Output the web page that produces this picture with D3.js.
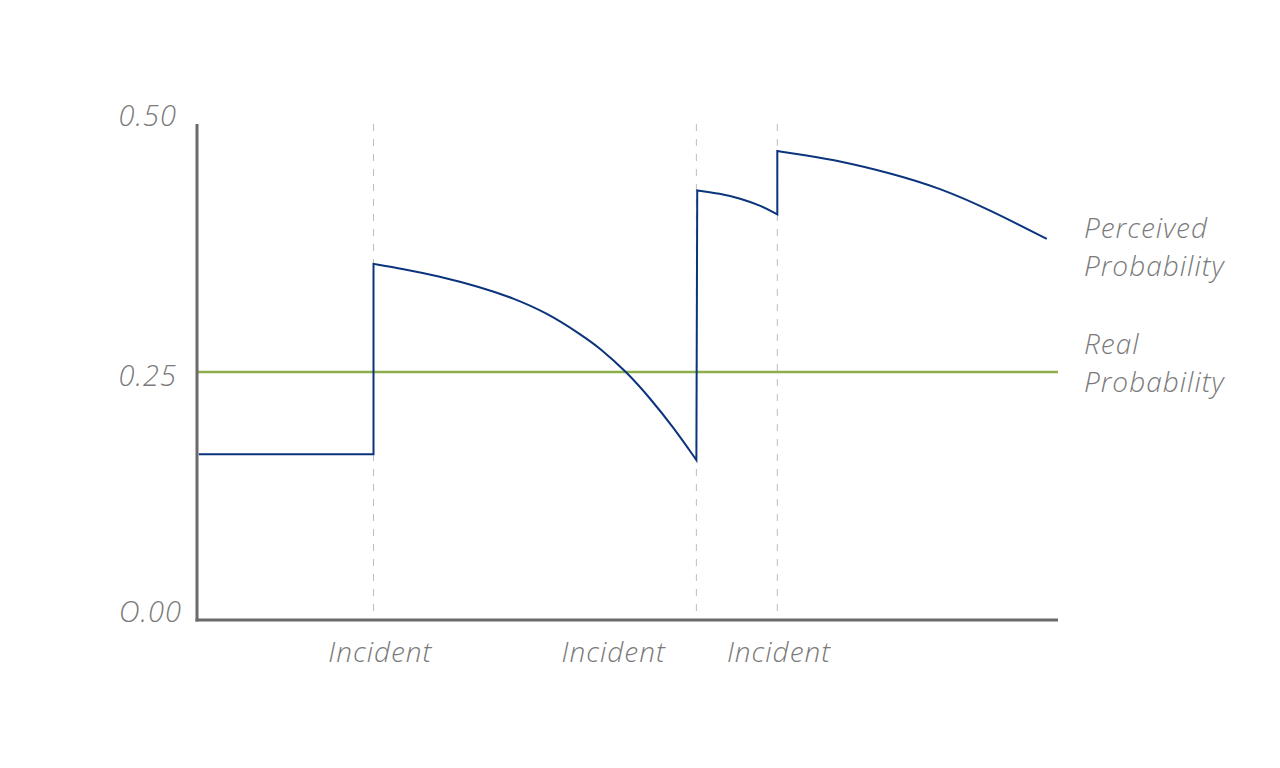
<!DOCTYPE html>
<html>
<head>
<meta charset="utf-8">
<script src="https://cdn.jsdelivr.net/npm/d3@7"></script>
<style>
  html, body { margin: 0; padding: 0; background: #fff; }
  svg text { font-family: "Open Sans", Lato, sans-serif; font-style: italic; font-weight: 300; fill: #7a7a7a; letter-spacing: 1px; }
</style>
</head>
<body>
<svg id="chart" width="1280" height="768"></svg>
<script>
// ---- data ----
const yTicks = [0.00, 0.25, 0.50];
const yTickLabels = ["O.00", "0.25", "0.50"];
const realProbability = 0.25;
const incidents = [20.5, 58.0, 67.4];
const incidentLabels = ["Incident", "Incident", "Incident"];
const incidentLabelAt = [21.3, 48.4, 67.6];
// perceived probability, piecewise segments (time, value)
const segBefore = [[0.2, 0.167], [20.5, 0.167]];
const segAfter1 = [[20.5, 0.359], [23.9, 0.354], [27.9, 0.347], [32.9, 0.3357], [36.7, 0.3246], [40.65, 0.3095], [44.5, 0.2883], [46.8, 0.2742], [49.9, 0.250], [52.6, 0.2238], [55.3, 0.1946], [58.0, 0.1613]];
const segAfter2 = [[58.1, 0.433], [60.7, 0.430], [63.1, 0.425], [65.4, 0.418], [67.4, 0.409]];
const segAfter3 = [[67.4, 0.4728], [70.4, 0.4688], [74.7, 0.4627], [80.5, 0.4506], [86.3, 0.4355], [92.1, 0.4133], [98.7, 0.3841]];
const seriesLabels = [["Perceived", "Probability"], ["Real", "Probability"]];

// ---- drawing ----
const svg = d3.select("#chart");
const x = d3.scaleLinear().domain([0, 100]).range([197, 1058]);
const y = d3.scaleLinear().domain([0, 0.5]).range([620, 124]);

// incident dashed lines
svg.selectAll("line.inc").data(incidents).enter().append("line")
  .attr("x1", d => x(d)).attr("x2", d => x(d))
  .attr("y1", y(0.5)).attr("y2", y(0) - 4)
  .attr("stroke", "#bdbdbd").attr("stroke-width", 1).attr("stroke-dasharray", "7,8");

// real probability
svg.append("line")
  .attr("x1", x(0)).attr("x2", x(100))
  .attr("y1", y(realProbability)).attr("y2", y(realProbability))
  .attr("stroke", "#8db04a").attr("stroke-width", 2.5);

// perceived probability
const linear = d3.line().x(d => x(d[0])).y(d => y(d[1]));
const curved = d3.line().x(d => x(d[0])).y(d => y(d[1])).curve(d3.curveBasis);
let pathD = linear(segBefore);
[segAfter1, segAfter2, segAfter3].forEach(seg => {
  pathD += curved(seg).replace(/^M/, "L");
});
svg.append("path").attr("d", pathD)
  .attr("fill", "none").attr("stroke", "#0b347c").attr("stroke-width", 2)
  .attr("stroke-linejoin", "miter");

// axes
svg.append("line").attr("x1", x(0)).attr("x2", x(0)).attr("y1", y(0.5)).attr("y2", y(0) + 1.5)
  .attr("stroke", "#6b6b6b").attr("stroke-width", 3);
svg.append("line").attr("x1", x(0) - 1.5).attr("x2", x(100)).attr("y1", y(0)).attr("y2", y(0))
  .attr("stroke", "#6b6b6b").attr("stroke-width", 3);

// y tick labels (baseline shift per position)
const baselineShift = v => v === 0.5 ? 2 : (v === 0 ? 2 : 14);
svg.selectAll("text.ytick").data(yTicks).enter().append("text")
  .attr("class", "ytick")
  .attr("x", d => d === 0 ? 182 : 177)
  .attr("y", d => y(d) + baselineShift(d))
  .attr("text-anchor", "end")
  .style("font-size", "29px")
  .text((d, i) => yTickLabels[i]);

// incident labels
svg.selectAll("text.inc").data(incidentLabelAt).enter().append("text")
  .attr("class", "inc")
  .attr("x", d => x(d)).attr("y", 662)
  .attr("text-anchor", "middle")
  .style("font-size", "28px")
  .text((d, i) => incidentLabels[i]);

// series labels
const labelY = [228, 344];
seriesLabels.forEach((lines, k) => {
  lines.forEach((t, j) => {
    svg.append("text").attr("x", 1084).attr("y", labelY[k] + j * 38)
      .attr("dy", "0.35em").style("font-size", "28px").text(t);
  });
});
</script>
</body>
</html>
